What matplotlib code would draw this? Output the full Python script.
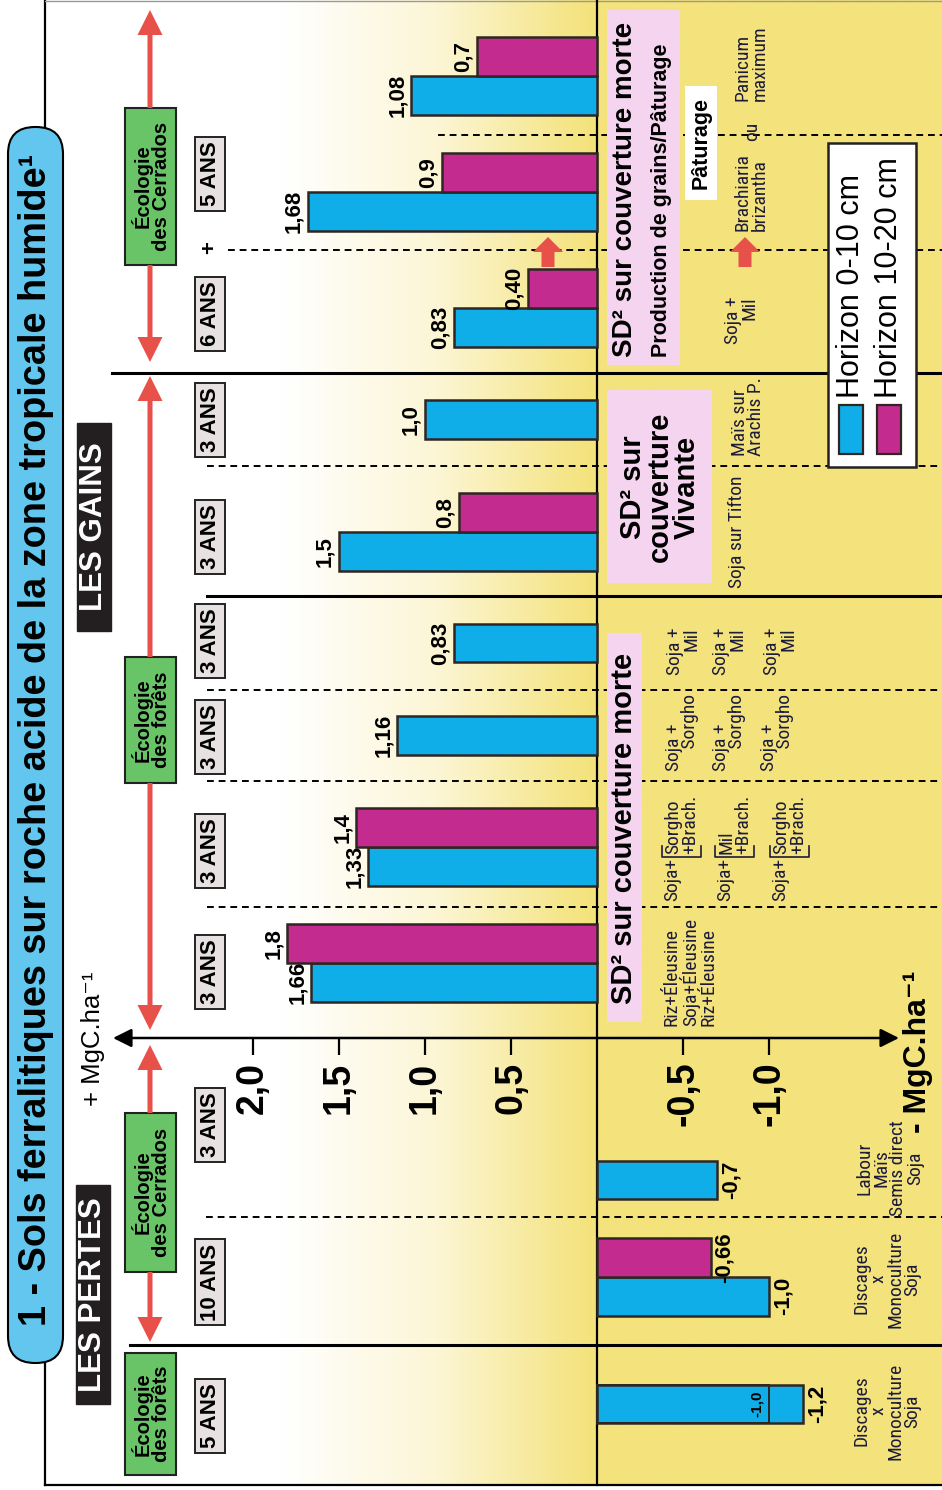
import numpy as np
import matplotlib
matplotlib.use('Agg')
import matplotlib.pyplot as plt
from matplotlib.patches import Rectangle, FancyBboxPatch, FancyArrow
from matplotlib.colors import LinearSegmentedColormap

plt.rcParams['font.family'] = ['Liberation Sans', 'DejaVu Sans']

# ---------------- data ----------------
groups = ['Forêts 5 ans - Discages x Monoculture Soja',
          'Cerrados 10 ans - Discages x Monoculture Soja',
          'Cerrados 3 ans - Labour Maïs / Semis direct Soja',
          'Forêts - Riz/Soja + Éleusine',
          'Forêts - Soja + Sorgho/Mil + Brach.',
          'Forêts - Soja + Sorgho',
          'Forêts - Soja + Mil',
          'Soja sur Tifton',
          'Maïs sur Arachis P.',
          'Soja + Mil',
          'Brachiaria brizantha',
          'Panicum maximum']
horizon_0_10 = [-1.2, -1.0, -0.7, 1.66, 1.33, 1.16, 0.83, 1.5, 1.0, 0.83, 1.68, 1.08]
horizon_10_20 = [np.nan, -0.66, np.nan, 1.8, 1.4, np.nan, np.nan, 0.8, np.nan, 0.40, 0.9, 0.7]
labels_0_10 = ['-1,2', '-1,0', '-0,7', '1,66', '1,33', '1,16', '0,83', '1,5', '1,0', '0,83', '1,68', '1,08']
labels_10_20 = ['', '-0,66', '', '1,8', '1,4', '', '', '0,8', '', '0,40', '0,9', '0,7']
inner_value = -1.0
inner_label = '-1,0'
durations = ['5 ANS', '10 ANS', '3 ANS', '3 ANS', '3 ANS', '3 ANS', '3 ANS', '3 ANS', '3 ANS', '6 ANS', '5 ANS']
tick_values = [2.0, 1.5, 1.0, 0.5, -0.5, -1.0]
tick_labels = ['2,0', '1,5', '1,0', '0,5', '-0,5', '-1,0']
legend_labels = ['Horizon 0-10 cm', 'Horizon 10-20 cm']
title = '1 - Sols ferralitiques sur roche acide de la zone tropicale humide¹'
ecology_labels = ['Écologie\ndes forêts', 'Écologie\ndes Cerrados', 'Écologie\ndes forêts', 'Écologie\ndes Cerrados']
section_labels = ['SD² sur couverture morte', 'SD² sur\ncouverture\nVivante', 'SD² sur couverture morte']
crop_simple = ['Discages\nx\nMonoculture\nSoja', 'Discages\nx\nMonoculture\nSoja',
               'Labour\nMaïs\nSemis direct\nSoja', 'Riz+Éleusine\nSoja+Éleusine\nRiz+Éleusine']
crop_bracket = [('Soja+', 'Sorgho\n+Brach.'), ('Soja+', 'Mil\n+Brach.'), ('Soja+', 'Sorgho\n+Brach.')]
crop_g6 = ['Soja +\n     Sorgho'] * 3
crop_g7 = ['Soja +\nMil'] * 3

# ---------------- layout (canvas pixels, y downward) ----------------
W, H = 942, 1490
ZERO_X, PX_UNIT = 597, 172
BAR_H = 38.6
group_y = [1404, 1277, 1180, 963, 847, 735.5, 643, 532, 419.5, 308, 192, 76]
duration_y = [1416, 1282, 1125, 972, 851, 737, 641, 537, 420, 314, 174]

BLUE = '#0FAEE8'
MAGENTA = '#C42B8E'
EDGE = '#2E2622'
YELLOW = '#F4E37C'
RED = '#E8504A'
GREEN = '#69C468'
PINK = '#F4D4EE'
GREYBOX = '#E8E1E1'
PILL = '#62C6EE'
TXT = '#1C1C3A'
NARROW = ['Liberation Sans Narrow', 'Roboto Condensed', 'Liberation Sans', 'DejaVu Sans']

fig = plt.figure(figsize=(W / 100, H / 100), dpi=100)

# background axes (pixel coordinates)
ax_bg = fig.add_axes([0, 0, 1, 1], zorder=0)
ax_bg.set_xlim(0, W); ax_bg.set_ylim(H, 0); ax_bg.axis('off')
xs = np.linspace(45, W, 600)
grad = np.clip((xs - 280) / (590 - 280), 0, 1)
cmap = LinearSegmentedColormap.from_list('wy', ['#FFFFFF', '#FCF6D6', YELLOW])
ax_bg.imshow(grad[None, :], extent=(45, W, 1485, 0), cmap=cmap, aspect='auto', vmin=0, vmax=1, zorder=0)

# frame
ax_bg.plot([45, 45], [0, 1485], color='black', lw=1.6, zorder=2)
ax_bg.plot([45, W], [1485, 1485], color='black', lw=1.6, zorder=2)
ax_bg.plot([45, W], [1, 1], color='#999999', lw=1.0, zorder=2)
# zero line and section separators
ax_bg.plot([ZERO_X, ZERO_X], [0, 1485], color='black', lw=1.6, zorder=2)
for y, x0 in [(1345, 130), (596, 207), (373, 112)]:
    ax_bg.plot([x0, W], [y, y], color='black', lw=2.2, zorder=2)
for y, x0 in [(1217, 206), (907, 207), (781, 207), (690, 207), (466, 207), (250, 228), (135, 438)]:
    ax_bg.plot([x0, W], [y, y], color='black', lw=1.4, ls=(0, (3.5, 2.5)), zorder=2)
# value axis with arrows
ax_bg.annotate('', xy=(113, 1038), xytext=(899, 1038),
               arrowprops=dict(arrowstyle='<|-|>', lw=1.8, color='black', mutation_scale=28,
                               shrinkA=0, shrinkB=0), zorder=3)

# bar axes: value scale, zero at ZERO_X
ax = fig.add_axes([0, 0, 1, 1], zorder=1)
ax.patch.set_visible(False)
ax.set_xlim(ZERO_X / PX_UNIT, -(W - ZERO_X) / PX_UNIT)
ax.set_ylim(H, 0)
for s in ax.spines.values():
    s.set_visible(False)
ax.spines['bottom'].set_position(('data', 1038))
ax.yaxis.set_visible(False)
ax.set_xticks(tick_values)
ax.set_xticklabels(tick_labels, rotation=90, fontsize=27, fontweight='bold')
ax.tick_params(axis='x', direction='out', length=12, width=1.6, pad=5, color='black')

v0 = np.array(horizon_0_10)
v1 = np.array(horizon_10_20)
pair = ~np.isnan(v1)
gy = np.array(group_y)
y_blue = np.where(pair, gy + BAR_H / 2, gy)
y_mag = gy - BAR_H / 2
ax.barh(y_blue, v0, height=BAR_H, color=BLUE, edgecolor=EDGE, linewidth=1.8, label=legend_labels[0], zorder=3)
ax.barh(y_mag[pair], v1[pair], height=BAR_H, color=MAGENTA, edgecolor=EDGE, linewidth=1.8,
        label=legend_labels[1], zorder=3)
# inner mark of first group
ax.barh([y_blue[0]], [inner_value], height=BAR_H, facecolor='none', edgecolor=EDGE, linewidth=1.4, zorder=4)
ax.text(inner_value + 0.03, y_blue[0], inner_label, rotation=90, ha='right', va='center',
        fontsize=11, fontweight='bold', zorder=5)


def value_label(v, y, s):
    if v > 0:
        ax.text(v + 0.02, y, s, rotation=90, ha='right', va='center', fontsize=16, fontweight='bold', zorder=5)
    else:
        ax.text(v - 0.02, y, s, rotation=90, ha='left', va='center', fontsize=16, fontweight='bold', zorder=5)


for v, y, s in zip(v0, y_blue, labels_0_10):
    value_label(v, y, s)
for v, y, s in zip(v1[pair], y_mag[pair], np.array(labels_10_20)[pair]):
    value_label(v, y, s)

# foreground decorations
fg = fig.add_axes([0, 0, 1, 1], zorder=2)
fg.patch.set_visible(False)
fg.set_xlim(0, W); fg.set_ylim(H, 0); fg.axis('off')


def vt(x, y, s, **kw):
    kw.setdefault('ha', 'center')
    kw.setdefault('va', 'center')
    return fg.text(x, y, s, rotation=90, **kw)


# title pill
fg.add_patch(FancyBboxPatch((8, 127), 55, 1236, boxstyle='round,pad=0,rounding_size=27',
                            fc=PILL, ec='black', lw=1.5, zorder=2))
vt(36, 740, title, fontsize=27.3, fontweight='bold', zorder=3)

# LES PERTES / LES GAINS
for (x0, x1, y0, y1), s in [((76, 110, 1185, 1404), 'LES PERTES'), ((77, 111, 423, 631), 'LES GAINS')]:
    fg.add_patch(Rectangle((x0, y0), x1 - x0, y1 - y0, fc='#231F20', ec='#231F20', zorder=2))
    vt((x0 + x1) / 2, (y0 + y1) / 2, s, fontsize=22.5, fontweight='bold', color='white', zorder=3)

# units
vt(93, 1106, '+ MgC.ha⁻¹', va='bottom', fontsize=18.5)
vt(918, 1133, '- MgC.ha⁻¹', va='bottom', fontsize=23, fontweight='bold')

# ecology boxes and red arrows
for (y0, y1), s in zip([(1353, 1475), (1113, 1272), (657, 783), (108, 265)], ecology_labels):
    fg.add_patch(Rectangle((125, y0), 51, y1 - y0, fc=GREEN, ec='#222222', lw=1.5, zorder=2))
    vt(151, (y0 + y1) / 2, s, fontsize=14.5, fontweight='bold', linespacing=0.95, zorder=3)
for y0, y1 in [(1113, 1045), (1272, 1342), (783, 1030), (657, 376), (265, 362), (108, 10)]:
    fg.add_patch(FancyArrow(150, y0, 0, y1 - y0, width=5, head_width=25, head_length=25,
                            length_includes_head=True, color=RED, lw=0, zorder=2))
for x in [548, 745]:
    fg.add_patch(FancyArrow(x, 267, 0, -30, width=13, head_width=30, head_length=15,
                            length_includes_head=True, color=RED, lw=0, zorder=2))

# duration boxes
for y, s in zip(duration_y, durations):
    vt(210, y, s, fontsize=16, fontweight='bold', zorder=3,
       bbox=dict(boxstyle='square,pad=0.22', fc=GREYBOX, ec='#222222', lw=1.4))
vt(210, 248, '+', fontsize=16, fontweight='bold')

# section boxes
fg.add_patch(Rectangle((607, 633), 35, 389, fc=PINK, ec='none', zorder=2))
vt(624, 828, section_labels[0], fontsize=21, fontweight='bold', zorder=3)
fg.add_patch(Rectangle((607, 390), 105, 193, fc=PINK, ec='none', zorder=2))
vt(660, 487, section_labels[1], fontsize=21, fontweight='bold', linespacing=0.95, zorder=3)
fg.add_patch(Rectangle((607, 10), 73, 355, fc=PINK, ec='none', zorder=2))
vt(625, 357, section_labels[2], va='bottom', fontsize=20, fontweight='bold', zorder=3)
vt(661, 357, 'Production de grains/Pâturage', va='bottom', fontsize=15.5, fontweight='bold', zorder=3)
fg.add_patch(Rectangle((685, 86), 32, 114, fc='white', ec='none', zorder=2))
vt(701, 143, 'Pâturage', fontsize=15.5, fontweight='bold', zorder=3)

# crop labels
ck = dict(family=NARROW, fontsize=14, color=TXT, linespacing=0.92, zorder=3)
vt(887, 1411, crop_simple[0], multialignment='center', **ck)
vt(887, 1279, crop_simple[1], multialignment='center', **ck)
vt(890, 1168, crop_simple[2], multialignment='center', **ck)
vt(690, 1026, crop_simple[3], va='bottom', multialignment='left', **ck)
for (a, b), xa in zip(crop_bracket, [672, 725, 780]):
    vt(xa, 901, a, va='bottom', **ck)
    vt(xa + 10, 854, b, va='bottom', multialignment='left', **ck)
    fg.plot([xa - 10, xa - 10, xa + 29, xa + 29], [846, 857, 857, 846], color=TXT, lw=1.2, zorder=3)
for s, xa in zip(crop_g6, [682, 729, 777]):
    vt(xa, 771, s, va='bottom', multialignment='left', **ck)
for s, xa in zip(crop_g7, [683, 729, 780]):
    vt(xa, 627, s, va='top', multialignment='right', **ck)
vt(737, 588, 'Soja sur Tifton', va='bottom', **ck)
vt(748, 456, 'Maïs sur\nArachis P.', va='bottom', multialignment='left', **ck)
vt(741, 296, 'Soja +\nMil', va='top', multialignment='right', **ck)
vt(751, 231, 'Brachiaria\nbrizantha', va='bottom', multialignment='left', **ck)
vt(752, 131, 'ou', **ck)
vt(751, 101, 'Panicum\nmaximum', va='bottom', multialignment='left', **ck)

# legend
fg.add_patch(Rectangle((828, 143), 88, 324, fc='white', ec='#222222', lw=1.8, zorder=4))
for x, c, s in zip([851, 889], [BLUE, MAGENTA], legend_labels):
    fg.add_patch(Rectangle((x - 12, 405), 24, 49, fc=c, ec=EDGE, lw=1.6, zorder=5))
    vt(x, 398, s, va='bottom', fontsize=22, zorder=5)

fig.savefig('out.png', dpi=100)
